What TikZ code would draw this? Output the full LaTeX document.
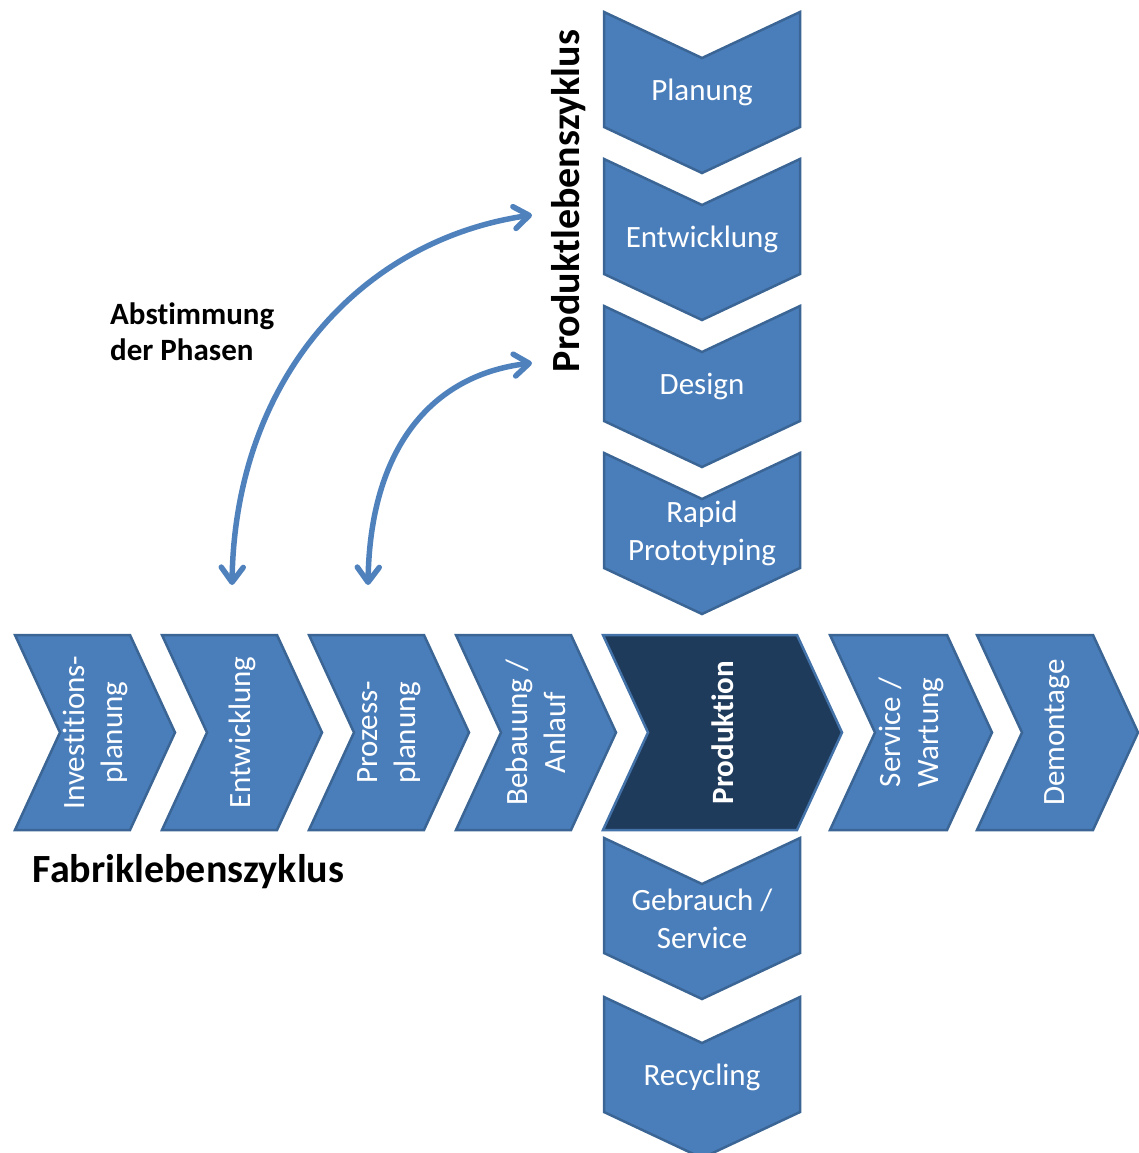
\documentclass[tikz,border=0pt]{standalone}
\usepackage{fontspec}
\setmainfont{Carlito}[Ligatures=NoCommon]
\usetikzlibrary{arrows.meta}

\definecolor{chevfill}{HTML}{4A7EBB}
\definecolor{chevline}{HTML}{3A6594}
\definecolor{prodfill}{HTML}{1F3B5C}
\definecolor{prodline}{HTML}{4272A8}
\definecolor{linkblue}{HTML}{4F81BD}

\tikzset{
  chev/.style={fill=chevfill, draw=chevline, line width=2.5pt, line join=miter},
  chevdark/.style={fill=prodfill, draw=prodline, line width=2.5pt, line join=miter},
  lbl/.style={text=white, font=\fontsize{31}{38}\selectfont, align=center, inner sep=0pt},
  vlbl/.style={lbl, rotate=90},
  heading/.style={font=\bfseries\fontsize{40}{48}\selectfont, inner sep=0pt},
  note/.style={font=\bfseries\fontsize{31}{36}\selectfont, inner sep=0pt, align=left},
  barb/.tip={Straight Barb[length=15pt,width=22pt,line cap=round,line join=round]},
  link/.style={draw=linkblue, line width=5.5pt, line cap=round, barb-barb}
}

% horizontal chevron: style, left edge, right corner x, name, label
\newcommand\hchev[5]{%
  \path[#1] (#2,635) -- (#3,635) -- (#3+45,732.5) -- (#3,830) -- (#2,830) -- (#2+45,732.5) -- cycle;
  \node[vlbl] (#4) at ({(#2+#3+45)/2},732.5) {#5};
}
% vertical chevron: top y, name, label
\newcommand\vchev[3]{%
  \path[chev] (604,#1) -- (702,#1+46) -- (800,#1) -- (800,#1+115) -- (702,#1+161) -- (604,#1+115) -- cycle;
  \node[lbl] (#2) at (702,#1+80.5) {#3};
}

\begin{document}
\begin{tikzpicture}[x=1pt,y=-1pt]
\useasboundingbox (0,0) rectangle (1139,1153);

% product life cycle (top)
\vchev{12}{pPlan}{Planung}
\vchev{159}{pEnt}{Entwicklung}
\vchev{306}{pDes}{Design}
\vchev{453}{pRap}{Rapid\\Prototyping}

% factory life cycle
\hchev{chev}{15}{130}{fInv}{Investitions-\\planung}
\hchev{chev}{162}{277}{fEnt}{Entwicklung}
\hchev{chev}{309}{424}{fPro}{Prozess-\\planung}
\hchev{chev}{456}{571}{fBeb}{Bebauung /\\Anlauf}
\hchev{chevdark}{603}{797}{fProd}{\bfseries Produktion}
\hchev{chev}{830}{947}{fSer}{Service /\\Wartung}
\hchev{chev}{977}{1093}{fDem}{Demontage}

% product life cycle (bottom)
\vchev{838}{pGeb}{Gebrauch /\\Service}
\vchev{997}{pRec}{Recycling}

% headings
\node[heading, rotate=90] (prodcycle) at (569,201) {Produktlebenszyklus};
\node[heading] (fabcycle) at (188.5,872) {Fabriklebenszyklus};
\node[note, anchor=west] (abst) at (110,332) {Abstimmung\\der Phasen};

% coordination arrows
\coordinate (l1a) at (232,585);
\coordinate (l1b) at (532,215);
\coordinate (l2a) at (368,585);
\coordinate (l2b) at (532,363);
\draw[link] (l1a) .. controls (235,380) and (360,240) .. (l1b);
\draw[link] (l2a) .. controls (370,450) and (430,375) .. (l2b);
\end{tikzpicture}
\end{document}
